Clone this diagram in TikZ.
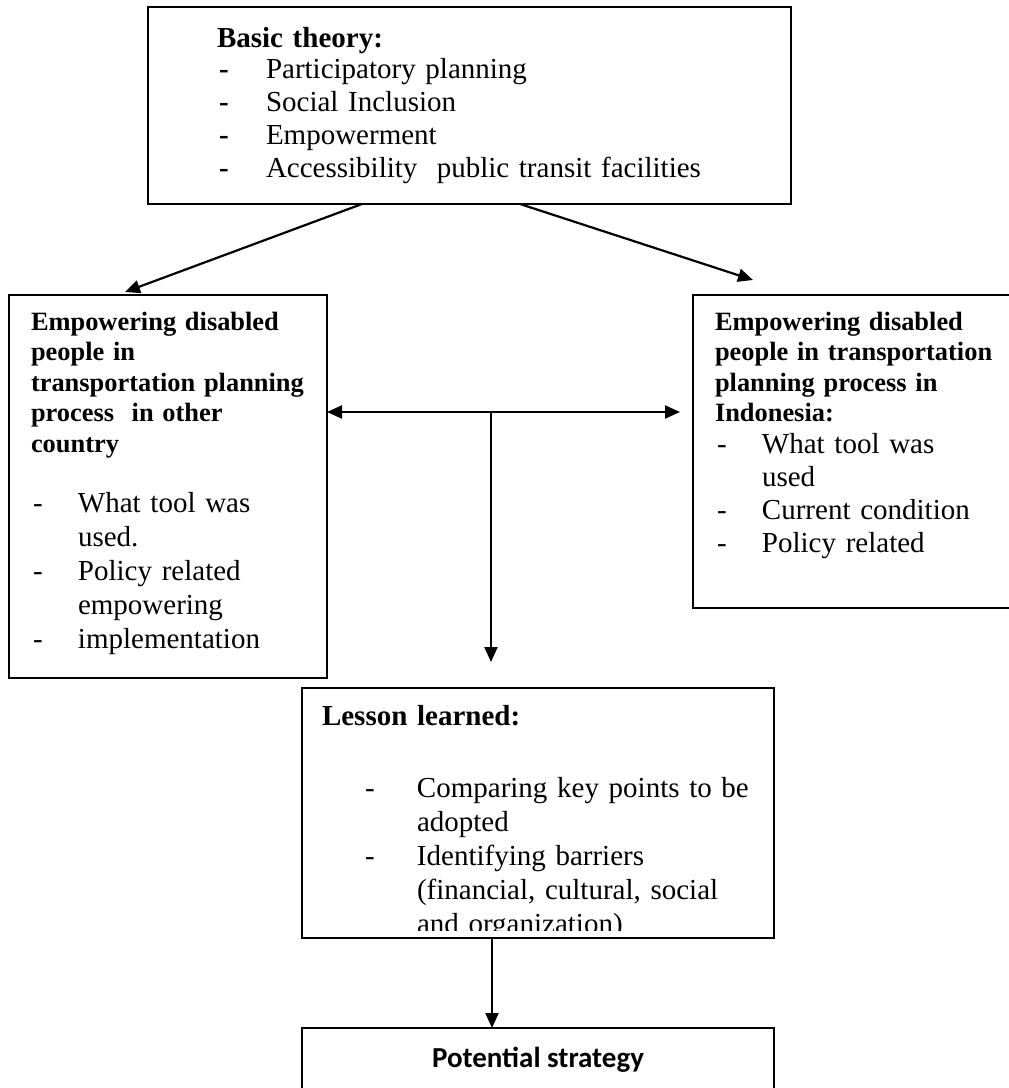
\documentclass[tikz,border=0pt]{standalone}
\usepackage{fontspec}
\setmainfont{Liberation Serif}
\newfontfamily\calibrifont{Carlito}
\usetikzlibrary{arrows.meta,calc}

\tikzset{
  box/.style={draw=black, line width=1.8pt, inner sep=0pt, outer sep=0pt, anchor=north west},
  txt/.style={inner sep=0pt, outer sep=0pt, anchor=base west, align=left, text width=#1},
  txt/.default=540pt,
  hdsmall/.style={font=\fontsize{26.4}{30.6}\selectfont\bfseries},
  hdbig/.style={font=\fontsize{29}{33}\selectfont\bfseries},
  items/.style={font=\fontsize{29}{#1}\selectfont},
  items/.default=33.3,
  arr/.style={line width=2.2pt, -{Triangle[length=15pt,width=13pt]}},
  dblarr/.style={line width=2.2pt, {Triangle[length=15pt,width=13pt]}-{Triangle[length=15pt,width=13pt]}},
}
\newcommand{\dashitem}[2]{\makebox[#1][l]{-}#2}
\newcommand{\contitem}[2]{\hspace*{#1}#2}

\begin{document}
\begin{tikzpicture}[x=1pt,y=-1pt]
\useasboundingbox (0,0) rectangle (1009,1088);
\fill[white] (0,0) rectangle (1009,1088);

% boxes
\node[box, minimum width=643pt, minimum height=197pt] (top) at (148,7) {};
\node[box, minimum width=318pt, minimum height=383pt] (left) at (9,295) {};
\node[box, minimum width=322pt, minimum height=313pt] (right) at (693,295) {};
\node[box, minimum width=472pt, minimum height=250pt] (mid) at (302,688) {};
\node[box, minimum width=472pt, minimum height=80pt] (bot) at (302,1028) {};

% top box text
\node[txt, hdbig] (tophead) at (217,47) {Basic theory:};
\node[txt, items] (topitems) at (219,78) {%
  \makebox[47pt][l]{\bfseries -}Participatory planning\\
  \makebox[47pt][l]{\bfseries -}Social Inclusion\\
  \makebox[47pt][l]{\bfseries -}Empowerment\\
  \makebox[47pt][l]{\bfseries -}Accessibility\ \ public transit facilities};

% left box text
\node[txt=300pt, hdsmall] (lefthead) at (31,330) {%
  Empowering disabled\\
  people in\\
  transportation planning\\
  process\ \ in other\\
  country};
\node[txt=300pt, items=34] (leftitems) at (33,512) {%
  \dashitem{45pt}{What tool was}\\
  \contitem{45pt}{used.}\\
  \dashitem{45pt}{Policy related}\\
  \contitem{45pt}{empowering}\\
  \dashitem{45pt}{implementation}};

% right box text
\node[txt=300pt, hdsmall] (righthead) at (715,330) {%
  Empowering disabled\\
  people in transportation\\
  planning process in\\
  Indonesia:};
\node[txt=300pt, items=33] (rightitems) at (717,453) {%
  \dashitem{45pt}{What tool was}\\
  \contitem{45pt}{used}\\
  \dashitem{45pt}{Current condition}\\
  \dashitem{45pt}{Policy related}};

% middle box text, the last line runs under the lower border
\node[txt, hdbig] (midhead) at (322,725) {Lesson learned:};
\begin{scope}
  \clip (302,688) rectangle (774,930);
  \node[txt=420pt, items=34] (miditems) at (365,797) {%
    \dashitem{52pt}{Comparing key points to be}\\
    \contitem{52pt}{adopted}\\
    \dashitem{52pt}{Identifying barriers}\\
    \contitem{52pt}{(financial, cultural, social}\\
    \contitem{52pt}{and organization)}};
\end{scope}

% bottom box text
\node[inner sep=0pt, anchor=base, font=\calibrifont\fontsize{29}{33}\selectfont\bfseries] (botlabel) at (538,1067) {Potential strategy};

% connectors
\draw[arr] ($(top.south west)+(214,0)$) -- ($(left.north west)+(116,-3)$);
\draw[arr] ($(top.south west)+(372,0)$) -- ($(right.north west)+(60,-15)$);
\draw[dblarr] ($(left.north east)+(0,117)$) -- ($(right.north west)+(-13,117)$);
\draw[arr] ($(left.north east)+(164,117)$) -- ($(mid.north west)+(189,-26)$);
\draw[arr] ($(mid.south west)+(190,0)$) -- ($(bot.north west)+(190,0)$);
\end{tikzpicture}
\end{document}
